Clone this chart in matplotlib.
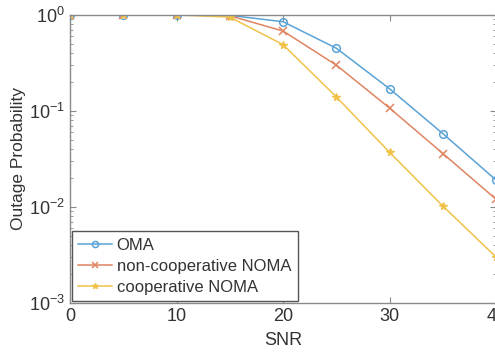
import numpy as np
import matplotlib
matplotlib.use("Agg")
import matplotlib.pyplot as plt

snr = [0, 5, 10, 15, 20, 25, 30, 35, 40]
oma = [1.0, 1.0, 1.0, 0.99, 0.85, 0.45, 0.17, 0.058, 0.019]
noma_noncoop = [1.0, 1.0, 1.0, 0.98, 0.68, 0.30, 0.107, 0.036, 0.012]
noma_coop = [1.0, 1.0, 1.0, 0.95, 0.49, 0.14, 0.037, 0.0102, 0.003]

c_blue = "#5aa3d6"
c_red = "#df8461"
c_yel = "#f0c24a"

plt.rcParams["font.family"] = ["Liberation Sans", "DejaVu Sans"]
plt.rcParams["mathtext.fontset"] = "custom"
plt.rcParams["mathtext.rm"] = "Liberation Sans"

fig = plt.figure(figsize=(4.95, 3.56), dpi=100)
ax = fig.add_axes([0.1414, 0.149, 0.861, 0.809])

ax.semilogy(snr, oma, "-o", color=c_blue, lw=1.1, ms=5.5, mfc="none", mew=1.1, label="OMA")
ax.semilogy(snr, noma_noncoop, "-x", color=c_red, lw=1.1, ms=5.5, mew=1.1, label="non-cooperative NOMA")
ax.semilogy(snr, noma_coop, "-*", color=c_yel, lw=1.1, ms=5.5, mew=1.0, label="cooperative NOMA")

ax.set_xlim(0, 40)
ax.set_ylim(1e-3, 1)
ax.set_xticks([0, 10, 20, 30, 40])
ax.set_xlabel("SNR", fontsize=13, color="#333333", labelpad=5)
ax.set_ylabel("Outage Probability", fontsize=12.5, color="#333333", labelpad=2)

ax.tick_params(which="both", direction="in", top=True, right=True, colors="#888888",
               labelcolor="#333333", labelsize=13)
ax.tick_params(which="major", length=4)
ax.tick_params(which="minor", length=2)
for s in ax.spines.values():
    s.set_color("#8a8a8a")
    s.set_linewidth(1.0)

leg = ax.legend(loc="lower left", fontsize=12, fancybox=False, framealpha=1,
                edgecolor="#555555", borderaxespad=0.1, handlelength=2.0,
                labelspacing=0.35, borderpad=0.4, handletextpad=0.3, markerscale=0.8)
leg.get_frame().set_linewidth(1.0)
for t in leg.get_texts():
    t.set_color("#333333")

fig.savefig("out.png", dpi=100)
